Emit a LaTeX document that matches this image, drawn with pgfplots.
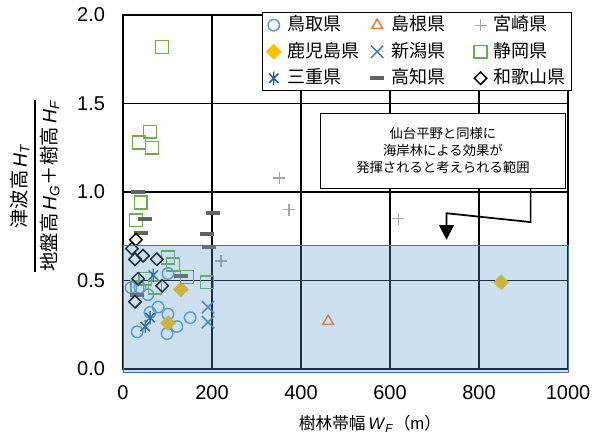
\documentclass[border=0pt]{standalone}
\usepackage{amsmath}
\usepackage{fontspec}
\setmainfont{Liberation Sans}
\newfontfamily\jp{Noto Sans CJK JP}
\usepackage{pgfplots}
\pgfplotsset{compat=1.18}
\usetikzlibrary{arrows.meta}
\definecolor{cTottori}{HTML}{5B9BD5}
\definecolor{cShimane}{HTML}{ED7D31}
\definecolor{cMiyazaki}{HTML}{A5A5A5}
\definecolor{cKagoshima}{HTML}{FFC000}
\definecolor{cNiigata}{HTML}{4472C4}
\definecolor{cShizuoka}{HTML}{70AD47}
\definecolor{cMie}{HTML}{255E91}
\definecolor{cKochi}{HTML}{636363}
\definecolor{cEdge}{HTML}{41719C}
\pgfdeclareplotmark{xbar}{%
  \pgfpathmoveto{\pgfqpoint{-.7071\pgfplotmarksize}{-.7071\pgfplotmarksize}}%
  \pgfpathlineto{\pgfqpoint{.7071\pgfplotmarksize}{.7071\pgfplotmarksize}}%
  \pgfpathmoveto{\pgfqpoint{-.7071\pgfplotmarksize}{.7071\pgfplotmarksize}}%
  \pgfpathlineto{\pgfqpoint{.7071\pgfplotmarksize}{-.7071\pgfplotmarksize}}%
  \pgfpathmoveto{\pgfqpoint{0pt}{-\pgfplotmarksize}}%
  \pgfpathlineto{\pgfqpoint{0pt}{\pgfplotmarksize}}%
  \pgfusepathqstroke}
\begin{document}
\begin{tikzpicture}
\begin{axis}[
  set layers,
  anchor=south west, at={(0,0)},
  scale only axis, width=333.75pt, height=265.5pt,
  xmin=0, xmax=1000, ymin=0, ymax=2,
  xtick={0,200,400,600,800,1000}, ytick={0,0.5,1,1.5,2},
  grid=major, major grid style={black, line width=1.35pt},
  axis line style={black, line width=1.4pt},
  major tick length=0pt,
  tick label style={font=\fontsize{15}{18}\selectfont},
  /pgf/number format/assume math mode=true,
  y tick label style={/pgf/number format/fixed, /pgf/number format/fixed zerofill, /pgf/number format/precision=1, xshift=-10pt},
  x tick label style={/pgf/number format/1000 sep={}, yshift=-9pt},
  clip=false,
  legend columns=3,
  legend cell align=left,
  legend image code/.code={\draw[#1] plot coordinates {(0pt,0pt)}; \path (-7pt,0pt) (6.5pt,0pt);},
  legend style={at={(1,1)}, anchor=north east, xshift=3pt, yshift=2.25pt,
    draw=black, line width=1.1pt, fill=white, inner xsep=1pt, inner ysep=1.1pt,
    row sep=3.4pt, font=\fontsize{13.5}{15}\selectfont\jp,
    nodes={inner xsep=3pt, inner ysep=1.5pt, text height=11pt, text depth=2.5pt},
    /tikz/every even column/.append style={column sep=3pt}},
]
% 鳥取県
\addplot[only marks, mark=o, mark size=4.3pt, color=cTottori, line width=1.1pt] coordinates {
 (101,0.54) (18,0.46) (38,0.46) (56,0.42) (79,0.35) (61,0.32) (101,0.31) (151,0.29) (121,0.24) (99,0.20) (32,0.21)};
\addlegendentry{\makebox[53pt][l]{鳥取県}}
% 島根県
\addplot[only marks, mark=triangle, mark size=4.6pt, color=cShimane, line width=1.1pt] coordinates {(461,0.27)};
\addlegendentry{\makebox[53pt][l]{島根県}}
% 宮崎県
\addplot[only marks, mark=+, mark size=4.5pt, color=cMiyazaki, line width=1pt] coordinates {
 (220,0.61) (351,1.08) (373,0.90) (619,0.85)};
\addlegendentry{宮崎県}
% 鹿児島県
\addplot[only marks, mark=square*, mark size=3.9pt, color=cKagoshima, line width=0.5pt, mark options={rotate=45}] coordinates {
 (130,0.45) (101,0.26) (850,0.49)};
\addlegendentry{\makebox[53pt][l]{鹿児島県}}
% 新潟県
\addplot[only marks, mark=x, mark size=6.5pt, color=cNiigata, line width=1.1pt] coordinates {(191,0.35) (191,0.265)};
\addlegendentry{\makebox[53pt][l]{新潟県}}
% 静岡県
\addplot[only marks, mark=square, mark size=4.8pt, color=cShizuoka, line width=1.1pt] coordinates {
 (88,1.82) (61,1.34) (36,1.28) (65,1.25) (40,0.94) (29,0.84) (101,0.63) (112,0.59) (144,0.52) (189,0.49) (50,0.51) (72,0.46) (32,0.46)};
\addlegendentry{静岡県}
% 三重県
\addplot[only marks, mark=xbar, mark size=5pt, color=cMie, line width=1.1pt] coordinates {
 (68,0.53) (61,0.29) (50,0.24)};
\addlegendentry{\makebox[53pt][l]{三重県}}
% 高知県
\addplot[only marks, mark=-, mark size=5.25pt, color=cKochi, line width=3pt] coordinates {
 (34,1.00) (50,0.85) (40,0.77) (202,0.88) (189,0.76) (194,0.69) (131,0.525) (32,0.42)};
\addlegendentry{\makebox[53pt][l]{高知県}}
% 和歌山県
\addplot[only marks, mark=square, mark size=3.3pt, color=black, line width=1.1pt, mark options={rotate=45}] coordinates {
 (29,0.73) (20,0.68) (45,0.64) (27,0.62) (76,0.62) (34,0.51) (88,0.47) (27,0.38)};
\addlegendentry{和歌山県}
\begin{pgfonlayer}{axis foreground}
% shaded range
\fill[cTottori, fill opacity=0.31] (axis cs:0,-0.022) rectangle (axis cs:1000,0.70);
\draw[cEdge, line width=0.6pt] (axis cs:0,-0.022) rectangle (axis cs:1000,0.70);
% arrow and annotation
\draw[black, line width=1.3pt, -{Triangle[length=11pt,width=11pt]}] (axis cs:916,1.02) -- (axis cs:916,0.83) -- (axis cs:727,0.88) -- (axis cs:727,0.73);
\node[draw=black, fill=white, line width=0.8pt, minimum width=183.75pt, minimum height=56.25pt, align=center, font=\fontsize{10}{13}\selectfont\jp] at (axis cs:719,1.234) {仙台平野と同様に\\海岸林による効果が\\発揮されると考えられる範囲};
\end{pgfonlayer}
\end{axis}
\node[inner sep=0.5pt, font=\fontsize{12.5}{14}\selectfont] at (185.25pt,-41pt) {{\jp 樹林帯幅}\,\textit{W}\textsubscript{\textit{F}}{\jp （}m{\jp ）}};
\node[rotate=90, font=\fontsize{14.5}{16}\selectfont] at (-66pt,137.25pt) {$\genfrac{}{}{1.1pt}{0}{\mbox{{\jp 津波高}\,\textit{H}\textsubscript{\textit{T}}}}{\mbox{{\jp 地盤高}\,\textit{H}\textsubscript{\textit{G}}{\jp ＋}{\jp 樹高}\,\textit{H}\textsubscript{\textit{F}}}}$};
\path (-92.25pt,-49.5pt) rectangle ++(451.5pt,326.25pt);
\end{tikzpicture}
\end{document}
